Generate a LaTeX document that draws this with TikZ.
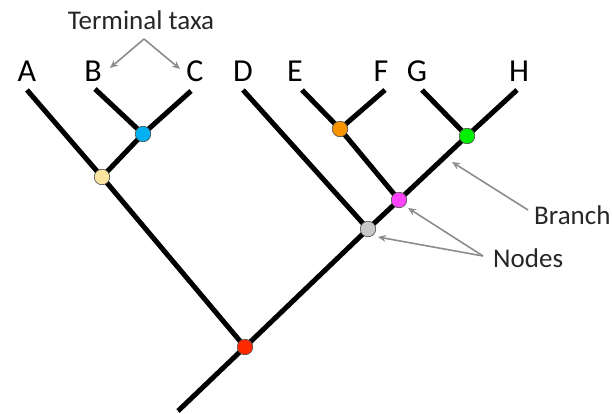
\documentclass[tikz,border=0pt]{standalone}
\usepackage{fontspec}
\setmainfont{Carlito}
\usetikzlibrary{arrows.meta}
\definecolor{cyellow}{HTML}{FBE3A0}
\definecolor{cblue}{HTML}{00B0F0}
\definecolor{corange}{HTML}{F79400}
\definecolor{cgreen}{HTML}{00F000}
\definecolor{cmagenta}{HTML}{FF44FF}
\definecolor{cgray}{HTML}{C8C8C8}
\definecolor{cred}{HTML}{FF2A00}
\definecolor{annot}{HTML}{8C8C8C}
\definecolor{txt}{HTML}{262626}
\tikzset{
  branch/.style={line width=5pt, black, line join=round},
  dot/.style={circle, draw=black!70, line width=0.6pt, minimum size=15.5pt, inner sep=0pt},
  taxon/.style={anchor=base, font=\fontsize{32}{35}\selectfont, text=black, inner sep=0pt},
  note/.style={font=\fontsize{27}{30}\selectfont, text=txt, inner sep=0pt},
  pointer/.style={annot, line width=1.6pt, -{Stealth[length=8pt,width=7pt]}},
}
\begin{document}
\begin{tikzpicture}[x=1pt,y=-1pt]
\useasboundingbox (0,0) rectangle (612,414);
% tips and internal points
\coordinate (root) at (178,411);
\coordinate (tA) at (27,90);
\coordinate (tB) at (95,89);
\coordinate (tC) at (191,91);
\coordinate (tD) at (243,90);
\coordinate (tE) at (302,90);
\coordinate (tF) at (385,90);
\coordinate (tG) at (422,90);
\coordinate (tH) at (517,90);
\coordinate (cR) at (245,347);
\coordinate (cY) at (102,177);
\coordinate (cBl) at (143,134);
\coordinate (cGr) at (368,229);
\coordinate (cM) at (399,200);
\coordinate (cO) at (340,129);
\coordinate (cG) at (467,136);
% branches
\draw[branch] (root) -- (cR) -- (cY) -- (tA);
\draw[branch] (cY) -- (cBl) -- (tC);
\draw[branch] (cBl) -- (tB);
\draw[branch] (cR) -- (cGr) -- (cM) -- (cG) -- (tH);
\draw[branch] (cGr) -- (tD);
\draw[branch] (cM) -- (cO) -- (tE);
\draw[branch] (cO) -- (tF);
\draw[branch] (cG) -- (tG);
% nodes
\node[dot, fill=cred] (nR) at (cR) {};
\node[dot, fill=cyellow] (nY) at (cY) {};
\node[dot, fill=cblue] (nBl) at (cBl) {};
\node[dot, fill=cgray] (nGr) at (cGr) {};
\node[dot, fill=cmagenta] (nM) at (cM) {};
\node[dot, fill=corange] (nO) at (cO) {};
\node[dot, fill=cgreen] (nG) at (cG) {};
% taxon labels
\node[taxon] (lA) at (27,82) {A};
\node[taxon] (lB) at (93,82) {B};
\node[taxon] (lC) at (195,82) {C};
\node[taxon] (lD) at (243,82) {D};
\node[taxon] (lE) at (295,82) {E};
\node[taxon] (lF) at (381,82) {F};
\node[taxon] (lG) at (417,82) {G};
\node[taxon] (lH) at (519,82) {H};
% annotations
\node[note, anchor=base] (terminal) at (141,30) {Terminal taxa};
\node[note, anchor=base west] (branchlbl) at (534,224) {Branch};
\node[note, anchor=base west] (nodeslbl) at (493,267) {Nodes};
\coordinate (tApex) at (144,39);
\coordinate (tBend) at (110,68);
\coordinate (tCend) at (180,69);
\coordinate (bStart) at (528,210);
\coordinate (bEnd) at (452,162);
\coordinate (nApex) at (483,256);
\coordinate (nMend) at (408,208);
\coordinate (nGend) at (378,237);
\draw[pointer] (tApex) -- (tBend);
\draw[pointer] (tApex) -- (tCend);
\draw[pointer] (bStart) -- (bEnd);
\draw[pointer] (nApex) -- (nMend);
\draw[pointer] (nApex) -- (nGend);
\end{tikzpicture}
\end{document}
